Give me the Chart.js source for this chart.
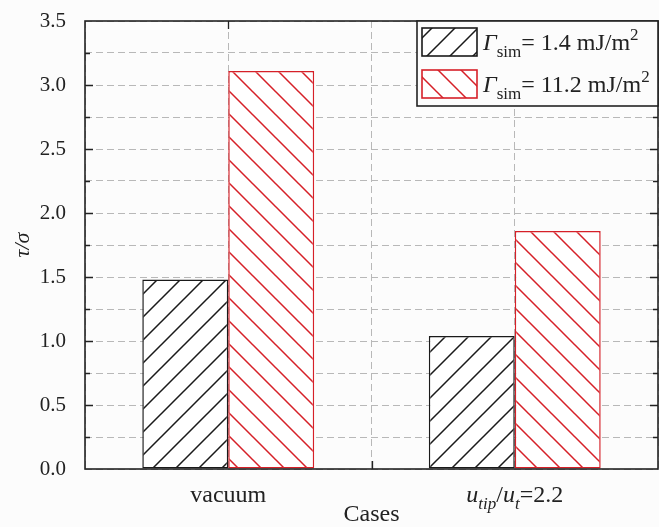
<!DOCTYPE html>
<html>
<head>
<meta charset="utf-8">
<script src="https://cdn.jsdelivr.net/npm/chart.js@4/dist/chart.umd.min.js"></script>
<style>
  body { margin: 0; background: #fcfcfc; }
  canvas { display: block; }
</style>
</head>
<body>
<canvas id="myChart" width="659" height="527"></canvas>
<script>
// data
const cases = ['vacuum', 'u_tip/u_t=2.2'];
const gammaLow = [1.48, 1.04];    // Γsim = 1.4 mJ/m2
const gammaHigh = [3.11, 1.86];   // Γsim = 11.2 mJ/m2
const seriesLabels = ['Γsim= 1.4 mJ/m2', 'Γsim= 11.2 mJ/m2'];
const yTicks = [0, 0.5, 1.0, 1.5, 2.0, 2.5, 3.0, 3.5];

const SERIF = "'Liberation Serif', 'Times New Roman', serif";
const RED = 'rgb(214,32,40)';
const BLACK = '#1a1a1a';

// rich text pieces for the labels that need sub/superscripts
const richText = {
    'vacuum': [{t: 'vacuum'}],
    'u_tip/u_t=2.2': [{t: 'u', it: true}, {t: 'tip', it: true, sub: true}, {t: '/'},
                      {t: 'u', it: true}, {t: 't', it: true, sub: true}, {t: '=2.2'}],
    'Γsim= 1.4 mJ/m2': [{t: 'Γ', it: true}, {t: 'sim', sub: true}, {t: '= 1.4 mJ/m'}, {t: '2', sup: true}],
    'Γsim= 11.2 mJ/m2': [{t: 'Γ', it: true}, {t: 'sim', sub: true}, {t: '= 11.2 mJ/m'}, {t: '2', sup: true}]
};

function hatch(color, dir) {
    var s = 23;
    var c = document.createElement('canvas');
    c.width = s; c.height = s;
    var g = c.getContext('2d');
    g.fillStyle = '#fff';
    g.fillRect(0, 0, s, s);
    g.strokeStyle = color;
    g.lineWidth = 1.5;
    g.beginPath();
    if (dir > 0) {
        g.moveTo(-2, s + 2); g.lineTo(s + 2, -2);
        g.moveTo(-2, 2); g.lineTo(2, -2);
        g.moveTo(s - 2, s + 2); g.lineTo(s + 2, s - 2);
    } else {
        g.moveTo(-2, -2); g.lineTo(s + 2, s + 2);
        g.moveTo(s - 2, -2); g.lineTo(s + 2, 2);
        g.moveTo(-2, s - 2); g.lineTo(2, s + 2);
    }
    g.stroke();
    return g.createPattern(c, 'repeat');
}

function pieceFont(p, size) {
    var sz = (p.sub || p.sup) ? Math.round(size * 0.7) : size;
    return (p.it ? 'italic ' : '') + sz + 'px ' + SERIF;
}

function richWidth(ctx, parts, size) {
    var w = 0;
    parts.forEach(function(p) {
        ctx.font = pieceFont(p, size);
        w += ctx.measureText(p.t).width;
    });
    return w;
}

function drawRich(ctx, parts, x, y, size, align) {
    if (align === 'center') x -= richWidth(ctx, parts, size) / 2;
    ctx.textBaseline = 'alphabetic';
    ctx.textAlign = 'left';
    parts.forEach(function(p) {
        ctx.font = pieceFont(p, size);
        var dy = p.sub ? size * 0.3 : (p.sup ? -size * 0.42 : 0);
        ctx.fillText(p.t, x, y + dy);
        x += ctx.measureText(p.t).width;
    });
}

// x axis runs over 5 slots so that the grid falls on the categories
const slotLabels = ['', cases[0], '', cases[1], ''];
function toSlots(arr) {
    return [null, arr[0], null, arr[1], null];
}

const bgPlugin = {
    id: 'bg',
    beforeDraw(chart) {
        var ctx = chart.ctx;
        ctx.save();
        ctx.fillStyle = '#fcfcfc';
        ctx.fillRect(0, 0, chart.width, chart.height);
        ctx.restore();
    }
};

const framePlugin = {
    id: 'frame',
    afterDatasetsDraw(chart) {
        var ctx = chart.ctx;
        var a = chart.chartArea;
        var x = chart.scales.x, y = chart.scales.y;
        ctx.save();
        ctx.strokeStyle = '#222';
        ctx.lineWidth = 1.6;
        ctx.strokeRect(a.left, a.top, a.right - a.left, a.bottom - a.top);

        ctx.lineWidth = 1.3;
        ctx.beginPath();
        for (var v = 0.25; v < 3.5; v += 0.25) {
            var py = Math.round(y.getPixelForValue(v)) + 0.5;
            var len = (Math.abs(v * 2 - Math.round(v * 2)) < 1e-6) ? 8 : 5;
            ctx.moveTo(a.left, py); ctx.lineTo(a.left + len, py);
            ctx.moveTo(a.right, py); ctx.lineTo(a.right - len, py);
        }
        [1, 3].forEach(function(i) {
            var px = Math.round(x.getPixelForTick(i)) + 0.5;
            ctx.moveTo(px, a.top); ctx.lineTo(px, a.top + 8);
        });
        var pm = Math.round(x.getPixelForTick(2)) + 0.5;
        ctx.moveTo(pm, a.bottom); ctx.lineTo(pm, a.bottom - 8);
        ctx.stroke();

        // category labels
        ctx.fillStyle = '#222';
        slotLabels.forEach(function(lab, i) {
            if (!lab) return;
            drawRich(ctx, richText[lab], x.getPixelForTick(i), a.bottom + 33, 24, 'center');
        });

        // legend box
        var lx = 417, ly = a.top, lw = a.right - lx, lh = 85;
        ctx.fillStyle = '#fcfcfc';
        ctx.fillRect(lx, ly, lw, lh);
        ctx.strokeStyle = '#222';
        ctx.lineWidth = 1.6;
        ctx.strokeRect(lx, ly, lw, lh);
        chart.data.datasets.forEach(function(ds, i) {
            var sy = ly + 7 + i * 42;
            ctx.fillStyle = ds.backgroundColor;
            ctx.fillRect(lx + 5, sy, 55, 28);
            ctx.strokeStyle = ds.borderColor;
            ctx.lineWidth = 1.6;
            ctx.strokeRect(lx + 5, sy, 55, 28);
            ctx.fillStyle = '#222';
            drawRich(ctx, richText[ds.label], lx + 66, sy + 22, 24, 'left');
        });
        ctx.restore();
    }
};

const gridColor = '#b8b8b8';

new Chart(document.getElementById('myChart'), {
    type: 'bar',
    data: {
        labels: slotLabels,
        datasets: [{
            label: seriesLabels[0],
            data: toSlots(gammaLow),
            backgroundColor: hatch(BLACK, 1),
            borderColor: BLACK,
            borderWidth: 1.5,
            borderSkipped: false
        }, {
            label: seriesLabels[1],
            data: toSlots(gammaHigh),
            backgroundColor: hatch(RED, -1),
            borderColor: RED,
            borderWidth: 1.5,
            borderSkipped: false
        }]
    },
    options: {
        responsive: false,
        animation: false,
        categoryPercentage: 1.2,
        barPercentage: 1.0,
        layout: { padding: { top: 21, right: 1, left: 0, bottom: 0 } },
        plugins: {
            legend: { display: false },
            tooltip: { enabled: false }
        },
        scales: {
            x: {
                offset: false,
                grid: { offset: false, color: gridColor, drawTicks: false },
                border: { display: false, dash: [7, 4] },
                ticks: { display: false },
                title: {
                    display: true,
                    text: 'Cases',
                    color: '#222',
                    font: { family: SERIF, size: 24, lineHeight: 1 },
                    padding: { top: 0, bottom: 0 }
                },
                afterFit(scale) { scale.height = 58; }
            },
            y: {
                min: 0,
                max: 3.5,
                // invisible tick marks keep the labels away from the axis
                grid: { color: gridColor, drawTicks: true, tickLength: 19, tickColor: 'rgba(0,0,0,0)' },
                border: { display: false, dash: [7, 4] },
                ticks: {
                    stepSize: 0.25,
                    autoSkip: false,
                    padding: 0,
                    color: '#222',
                    font: { family: SERIF, size: 21 },
                    callback: function(v) {
                        return yTicks.indexOf(v) >= 0 ? v.toFixed(1) : '';
                    }
                },
                title: {
                    display: true,
                    text: 'τ/σ',
                    color: '#222',
                    font: { family: SERIF, size: 22, style: 'italic', lineHeight: 1.2 },
                    padding: { top: 10, bottom: 0 }
                },
                afterFit(scale) { scale.width = 85; }
            }
        }
    },
    plugins: [bgPlugin, framePlugin]
});
</script>
</body>
</html>
